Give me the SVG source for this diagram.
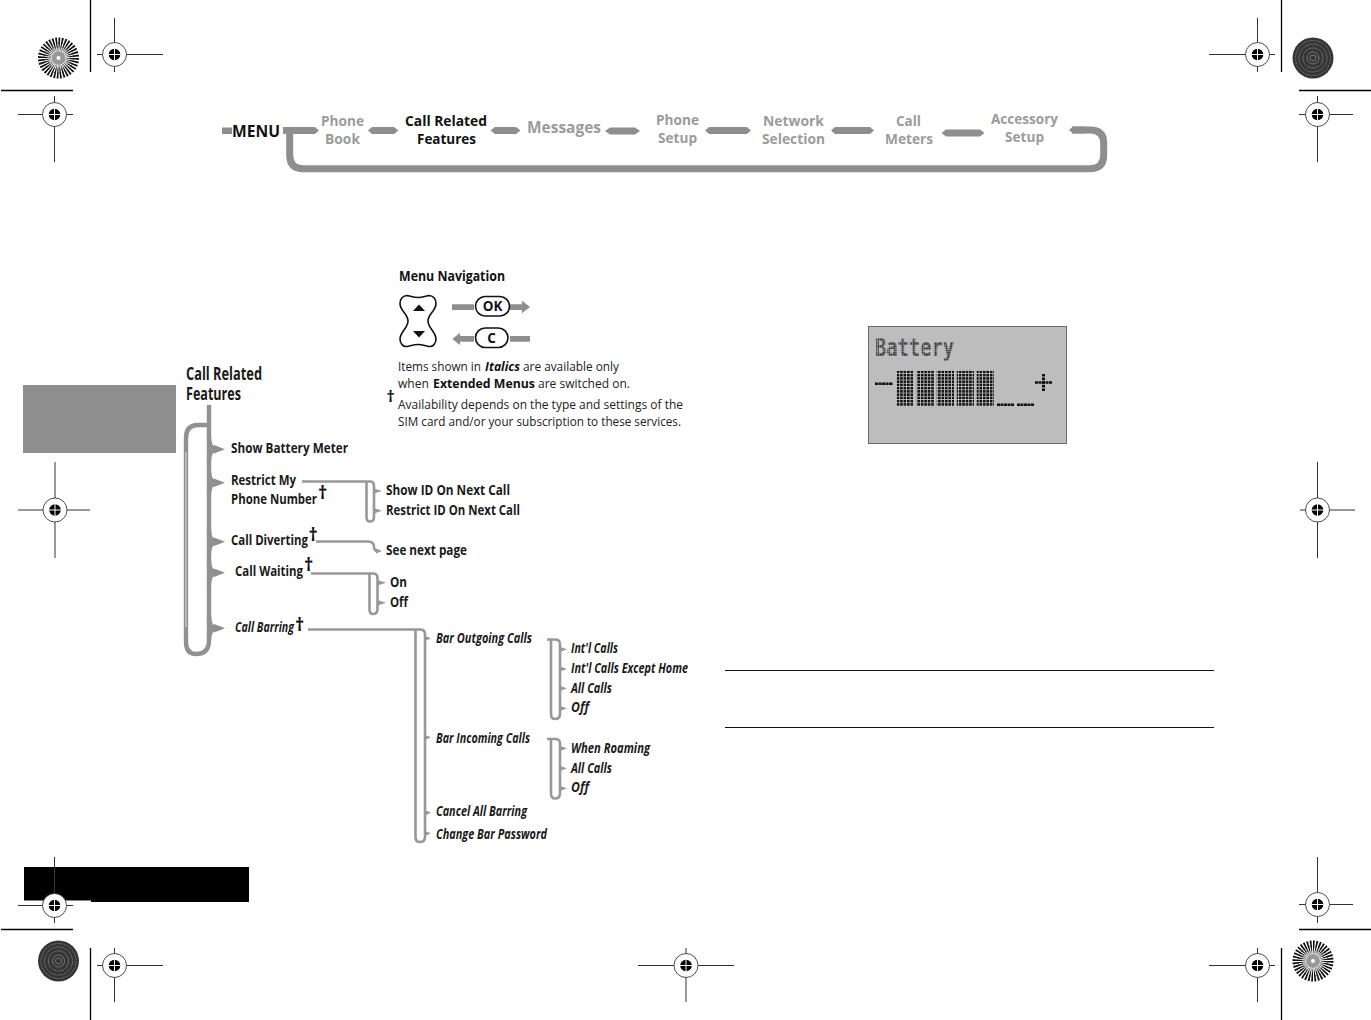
<svg xmlns="http://www.w3.org/2000/svg" width="1371" height="1020" viewBox="0 0 1371 1020">
<style>
text{font-family:"Open Sans","Noto Sans","Liberation Sans",sans-serif;font-variant-ligatures:none}
.m{font-size:14.5px;font-weight:700;fill:#9b9b9b}
.k{font-size:14.5px;font-weight:700;fill:#111}
.t{font-size:15px;font-weight:700;fill:#1a1a1a;transform:translateY(-.7px)}
.i{font-size:13.5px;font-weight:700;font-style:italic;fill:#1a1a1a}
.b{font-size:13px;font-weight:400;fill:#222}
.d{font-size:18px;font-weight:700;fill:#111}
.bar{fill:#8e8e8e}
.thick{fill:none;stroke:#8e8e8e;stroke-width:7}
.main{fill:none;stroke:#919191;stroke-width:4.4}
.br{fill:none;stroke:#989898;stroke-width:2.6}
.tip{fill:#989898}
.hl{stroke:#333;stroke-width:1;fill:none}
.crop{stroke:#000;stroke-width:1.3;fill:none}
</style>
<defs>
<g id="reg">
<circle r="12" fill="#fff" stroke="#222" stroke-width="0.8"/>
<circle r="5.8" fill="#000"/>
<path d="M-6,0H6M0,-6V6" stroke="#fff" stroke-width="1"/>
</g>
<g id="star">
<circle r="20.5" fill="#fff"/>
<g fill="none" stroke="#111">
<circle r="17.5" stroke-width="6" pathLength="72" stroke-dasharray="1.1 .9"/>
<circle r="13" stroke-width="5" pathLength="72" stroke-dasharray="1.1 .9"/>
<circle r="9.5" stroke-width="4" pathLength="72" stroke-dasharray="1 1" stroke="#555"/>
</g>
<circle r="7" fill="#999"/>
<circle r="2" fill="#fff"/>
</g>
<g id="dark">
<circle r="20.5" fill="#353535"/>
<g fill="none" stroke="#777" stroke-width="1">
<circle r="17.5" pathLength="72" stroke-dasharray="1 .6"/><circle r="14" pathLength="72" stroke-dasharray="1.4 .6"/><circle r="10" pathLength="72" stroke-dasharray="2 .6"/><circle r="6"/><circle r="3"/>
</g>
</g>
<pattern id="lcdGrid" patternUnits="userSpaceOnUse" x="896.7" y="370.7" width="3.45" height="3.25">
<rect width="2.6" height="2.5" fill="#111"/>
</pattern>
<pattern id="lcdText" patternUnits="userSpaceOnUse" width="2.2" height="2.2">
<rect width="1.8" height="1.8" fill="#333"/>
</pattern>
</defs>

<rect width="1371" height="1020" fill="#fff"/>

<g id="page-furniture">
<rect x="23" y="385" width="153" height="68" fill="#8e8e8e"/>
<rect x="24" y="867" width="225" height="35" fill="#000"/>
<rect x="24" y="900.5" width="67" height="3" fill="#fff"/>
<path class="crop" d="M90.5,0V72M1,90.5H73M1281.5,0V72M1299,90.5H1371M1,929.5H73M90.5,948V1020M1281.5,948V1020M1299,929.5H1371"/>
<path class="hl" d="M97,54.5H163M114.5,18V72M18,114.5H73M54.5,96V162M1209,54.5H1275M1257.5,18V72M1299,114.5H1353M1317.5,96V162M18,510H90M55,462V558M1300,510H1355M1317.5,462V558M18,905.5H73M54.5,857V923M1299,904.5H1353M1317.5,857V923M97,965.5H163M114.5,948V1002M1209,965.5H1275M1257.5,948V1002M638,965.5H734M686,948V1002"/>
<use href="#reg" x="114.5" y="54.5"/><use href="#reg" x="54.5" y="114.5"/>
<use href="#reg" x="1257.5" y="54.5"/><use href="#reg" x="1317.5" y="114.5"/>
<use href="#reg" x="55" y="510"/><use href="#reg" x="1317.5" y="510"/>
<use href="#reg" x="54.5" y="905.5"/><use href="#reg" x="1317.5" y="904.5"/>
<use href="#reg" x="114.5" y="965.5"/><use href="#reg" x="1257.5" y="965.5"/><use href="#reg" x="686" y="965.5"/>
<use href="#star" x="58.5" y="58"/><use href="#dark" x="1313" y="58"/>
<use href="#dark" x="58.5" y="961"/><use href="#star" x="1313" y="961"/>
<path d="M725,670.5H1214M725,727.5H1214" stroke="#111" stroke-width="1" fill="none"/>
</g>

<g id="connectors">
<g id="menu-connectors">
<rect x="222" y="127.5" width="10" height="6.5" class="bar"/>
<path class="thick" d="M1072,130H1090Q1103.7,130 1103.7,143V155Q1103.7,168.7 1090,168.7H303Q289.7,168.7 289.7,155V130"/>
<polygon class="bar" points="283,127 315,127 319,130.5 315,134 283,134"/>
<polygon class="bar" points="1069,130 1073,126.5 1085,126.5 1085,133.5 1073,133.5"/>
<polygon class="bar" points="368,130.5 372,127 394,127 398.5,130.5 394,134 372,134"/>
<polygon class="bar" points="490.5,130.5 495,127 516,127 520.5,130.5 516,134 495,134"/>
<polygon class="bar" points="605,131 610,127.5 635,127.5 640,131 635,134.5 610,134.5"/>
<polygon class="bar" points="705,130.5 709,127 747,127 751,130.5 747,134 709,134"/>
<polygon class="bar" points="831,130.5 835,127 870,127 874,130.5 870,134 835,134"/>
<polygon class="bar" points="941.5,133 946,129.5 980,129.5 984.5,133 980,136.5 946,136.5"/>
</g>
<g id="tree-connectors">
<path class="main" d="M209,405V640Q209,654 196,654Q186,654 186,642V438Q186,425 198,425H209"/>
<path d="M186,452V627" stroke="#e0e0e0" stroke-width="1" fill="none"/>
<path class="main" d="M209,437Q209,449.3 217,449.3Q209,449.3 209,461M209,471Q209,482.7 217,482.7Q209,482.7 209,495M209,529Q209,541.7 217,541.7Q209,541.7 209,554M209,560Q209,572.7 217,572.7Q209,572.7 209,585M209,616Q209,628.3 217,628.3Q209,628.3 209,640"/>
<path class="bar" d="M214,445L225,449.3L214,453.5ZM214,478.5L225,482.7L214,487ZM214,537.5L225,541.7L214,546ZM214,568.5L225,572.7L214,577ZM214,624L225,628.3L214,632.5Z"/>
<path class="br" d="M302,481.5H370Q374,481.5 374,486V517Q374,521.5 370,521.5Q366.5,521.5 366.5,517V481.5"/>
<path class="tip" d="M374,488.5L382,491L374,493.5ZM374,508L382,510.7L374,513.5Z"/>
<path class="br" d="M316,541.5H368Q374,541.5 374,547Q374,551 378,551"/>
<path class="tip" d="M376,548.5L382,551L376,553.5Z"/>
<path class="br" d="M311,573.5H373Q377.5,573.5 377.5,578V609Q377.5,614 373,614Q369.5,614 369.5,609V573.5"/>
<path class="tip" d="M377.5,580L386,582.7L377.5,585.5ZM377.5,600L386,602.7L377.5,605.5Z"/>
<path class="br" d="M308,629.5H420Q425,629.5 425,634V837Q425,842 420,842Q415.5,842 415.5,837V629.5"/>
<path class="tip" d="M425,636L431,638.3L425,641ZM425,735L431,737.3L425,740ZM425,810L431,812.7L425,815.5ZM425,831L431,833.3L425,836Z"/>
<path class="br" d="M547,639.5H555Q560,639.5 560,644V714Q560,719 555,719Q551,719 551,714V639.5"/>
<path class="tip" d="M560,647L567,649.3L560,652ZM560,666.5L567,669L560,671.5ZM560,686L567,688.3L560,691ZM560,706L567,708.3L560,711Z"/>
<path class="br" d="M547,739H555Q560,739 560,743.5V793.5Q560,798.5 555,798.5Q551,798.5 551,793.5V739"/>
<path class="tip" d="M560,746L567,748.3L560,751ZM560,766L567,768.3L560,771ZM560,786L567,788.3L560,791Z"/>
</g>
</g>

<g id="node-menu"><text x="232" y="137" class="k" style="font-size:16.5px" textLength="48" lengthAdjust="spacingAndGlyphs">MENU</text></g>
<g id="node-phone-book"><text x="321" y="126" class="m" textLength="43" lengthAdjust="spacingAndGlyphs">Phone</text><text x="325" y="144" class="m" textLength="35" lengthAdjust="spacingAndGlyphs">Book</text></g>
<g id="node-call-related"><text x="405" y="126" class="k" textLength="82" lengthAdjust="spacingAndGlyphs">Call Related</text><text x="417" y="144" class="k" textLength="59" lengthAdjust="spacingAndGlyphs">Features</text></g>
<g id="node-messages"><text x="527" y="133" class="m" style="font-size:16.5px" textLength="74" lengthAdjust="spacingAndGlyphs">Messages</text></g>
<g id="node-phone-setup"><text x="656" y="125" class="m" textLength="43" lengthAdjust="spacingAndGlyphs">Phone</text><text x="658" y="143" class="m" textLength="39" lengthAdjust="spacingAndGlyphs">Setup</text></g>
<g id="node-network"><text x="763" y="126" class="m" textLength="61" lengthAdjust="spacingAndGlyphs">Network</text><text x="762" y="144" class="m" textLength="63" lengthAdjust="spacingAndGlyphs">Selection</text></g>
<g id="node-call-meters"><text x="896" y="126" class="m" textLength="25" lengthAdjust="spacingAndGlyphs">Call</text><text x="885" y="144" class="m" textLength="48" lengthAdjust="spacingAndGlyphs">Meters</text></g>
<g id="node-accessory"><text x="991" y="124" class="m" textLength="67" lengthAdjust="spacingAndGlyphs">Accessory</text><text x="1005" y="142" class="m" textLength="39" lengthAdjust="spacingAndGlyphs">Setup</text></g>

<g id="legend">
<text x="399" y="281" class="k" style="font-size:14px" textLength="106" lengthAdjust="spacingAndGlyphs">Menu Navigation</text>
<path d="M418,297.5C422,297.5 426,296 429,295.5C433,295.5 436,299 436,303.5C436,311 428,314 428,321C428,328 436,332 436,339C436,343.5 433,347 429,346.5C426,346 422,344.5 418,344.5C414,344.5 410,346 407,346.5C403,347 400,343.5 400,339C400,332 408,328 408,321C408,314 400,311 400,303.5C400,299 403,295.5 407,295.5C410,296 414,297.5 418,297.5Z" fill="#fff" stroke="#111" stroke-width="1.6"/>
<path d="M413,311L419,304.5L425,311ZM413,331L419,337.5L425,331Z" fill="#111"/>
<path class="bar" d="M452,304.3H474V310H452ZM510,304.3H522V300.7L530,307L522,313.3V310H510ZM452.3,339L460,332.7V336H474V341.7H460V345ZM510,336H530V341.7H510Z"/>
<rect x="475.5" y="296.5" width="34" height="19.5" rx="9.7" fill="#fff" stroke="#111" stroke-width="1.6"/>
<rect x="475.5" y="328" width="32.5" height="19.5" rx="9.7" fill="#fff" stroke="#111" stroke-width="1.6"/>
<text x="492.5" y="311" text-anchor="middle" class="k" style="font-size:13.5px">OK</text>
<text x="491.5" y="342.5" text-anchor="middle" class="k" style="font-size:13.5px">C</text>
<text y="371" class="b"><tspan x="398" textLength="83" lengthAdjust="spacingAndGlyphs">Items shown in</tspan><tspan x="485" textLength="35" lengthAdjust="spacingAndGlyphs" font-weight="700" font-style="italic" fill="#111">Italics</tspan><tspan x="523" textLength="96" lengthAdjust="spacingAndGlyphs">are available only</tspan></text>
<text y="388" class="b"><tspan x="398" textLength="31" lengthAdjust="spacingAndGlyphs">when</tspan><tspan x="433" textLength="102" lengthAdjust="spacingAndGlyphs" font-weight="700" fill="#111">Extended Menus</tspan><tspan x="538" textLength="92" lengthAdjust="spacingAndGlyphs">are switched on.</tspan></text>
<text x="386.5" y="402" class="d" style="font-size:16px">†</text>
<text x="398" y="409" class="b" textLength="285" lengthAdjust="spacingAndGlyphs">Availability depends on the type and settings of the</text>
<text x="398" y="426" class="b" textLength="283" lengthAdjust="spacingAndGlyphs">SIM card and/or your subscription to these services.</text>
</g>

<g id="node-root"><text x="186" y="380.7" class="t" style="font-size:17.5px" textLength="76" lengthAdjust="spacingAndGlyphs">Call Related</text><text x="186" y="400.7" class="t" style="font-size:17.5px" textLength="55" lengthAdjust="spacingAndGlyphs">Features</text></g>
<g id="node-battery-meter"><text x="231" y="453.5" class="t" textLength="117" lengthAdjust="spacingAndGlyphs">Show Battery Meter</text></g>
<g id="node-restrict"><text x="231" y="486" class="t" textLength="65" lengthAdjust="spacingAndGlyphs">Restrict My</text><text x="231" y="505" class="t" textLength="86" lengthAdjust="spacingAndGlyphs">Phone Number</text><text x="318" y="499" class="d">†</text></g>
<g id="node-diverting"><text x="231" y="546" class="t" textLength="77" lengthAdjust="spacingAndGlyphs">Call Diverting</text><text x="308.5" y="541" class="d">†</text></g>
<g id="node-waiting"><text x="235" y="577" class="t" textLength="68" lengthAdjust="spacingAndGlyphs">Call Waiting</text><text x="304" y="571" class="d">†</text></g>
<g id="node-barring"><text x="235" y="632" class="i" textLength="59" lengthAdjust="spacingAndGlyphs">Call Barring</text><text x="295" y="631" class="d">†</text></g>
<g id="node-show-id"><text x="386" y="496" class="t" textLength="124" lengthAdjust="spacingAndGlyphs">Show ID On Next Call</text></g>
<g id="node-restrict-id"><text x="386" y="516" class="t" textLength="134" lengthAdjust="spacingAndGlyphs">Restrict ID On Next Call</text></g>
<g id="node-see-next"><text x="386" y="556" class="t" textLength="81" lengthAdjust="spacingAndGlyphs">See next page</text></g>
<g id="node-on"><text x="390" y="588" class="t" textLength="17" lengthAdjust="spacingAndGlyphs">On</text></g>
<g id="node-off"><text x="390" y="608" class="t" textLength="18" lengthAdjust="spacingAndGlyphs">Off</text></g>
<g id="node-bar-out"><text x="436" y="643" class="i" textLength="96" lengthAdjust="spacingAndGlyphs">Bar Outgoing Calls</text></g>
<g id="node-bar-in"><text x="436" y="743" class="i" textLength="94" lengthAdjust="spacingAndGlyphs">Bar Incoming Calls</text></g>
<g id="node-cancel"><text x="436" y="816" class="i" textLength="91" lengthAdjust="spacingAndGlyphs">Cancel All Barring</text></g>
<g id="node-change"><text x="436" y="839" class="i" textLength="111" lengthAdjust="spacingAndGlyphs">Change Bar Password</text></g>
<g id="node-intl"><text x="571" y="653" class="i" textLength="47" lengthAdjust="spacingAndGlyphs">Int'l Calls</text></g>
<g id="node-intl-home"><text x="571" y="673" class="i" textLength="117" lengthAdjust="spacingAndGlyphs">Int'l Calls Except Home</text></g>
<g id="node-out-all"><text x="571" y="693" class="i" textLength="41" lengthAdjust="spacingAndGlyphs">All Calls</text></g>
<g id="node-out-off"><text x="571" y="712" class="i" textLength="18" lengthAdjust="spacingAndGlyphs">Off</text></g>
<g id="node-roaming"><text x="571" y="753" class="i" textLength="79" lengthAdjust="spacingAndGlyphs">When Roaming</text></g>
<g id="node-in-all"><text x="571" y="773" class="i" textLength="41" lengthAdjust="spacingAndGlyphs">All Calls</text></g>
<g id="node-in-off"><text x="571" y="792" class="i" textLength="18" lengthAdjust="spacingAndGlyphs">Off</text></g>

<g id="lcd">
<rect x="868.5" y="326.5" width="198" height="117" fill="#bdbdbd" stroke="#6a6a6a" stroke-width="1"/>
<text x="875" y="356" style="font-family:'DejaVu Sans Mono','Liberation Mono',monospace;font-size:25px;font-weight:700" fill="url(#lcdText)" textLength="79" lengthAdjust="spacingAndGlyphs">Battery</text>
<path fill="url(#lcdGrid)" d="M896.7,370.7H914V406H896.7ZM916.7,370.7H934V406H916.7ZM936.7,370.7H954V406H936.7ZM956.7,370.7H974V406H956.7ZM976.7,370.7H994V406H976.7Z"/>
<path d="M875,383.7H893M997,404.7H1014M1017,404.7H1034M1035,382.5H1052" stroke="#111" stroke-width="2.5" stroke-dasharray="3 .5" fill="none"/>
<path d="M1043.5,374V391" stroke="#111" stroke-width="3" stroke-dasharray="2.6 1" fill="none"/>
</g>
</svg>
